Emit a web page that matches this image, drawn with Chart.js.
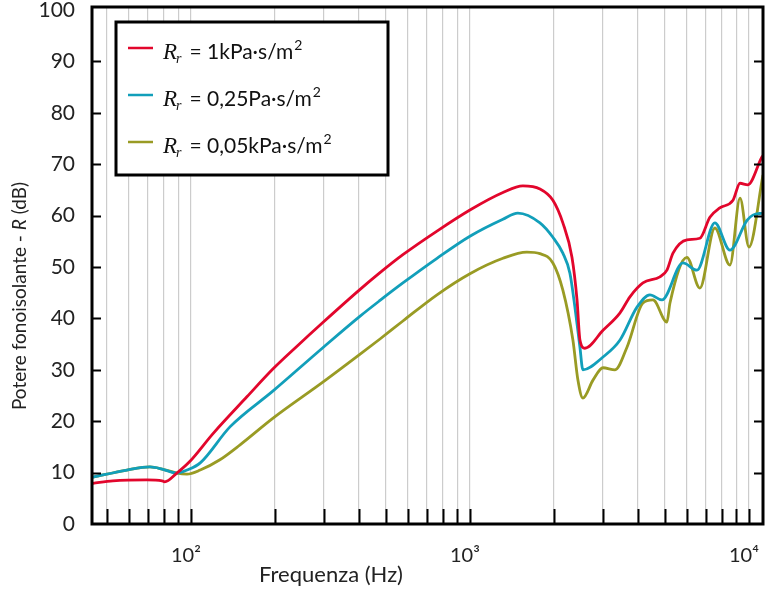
<!DOCTYPE html>
<html>
<head>
<meta charset="utf-8">
<script src="https://cdn.jsdelivr.net/npm/chart.js@4.4.1/dist/chart.umd.min.js"></script>
<style>
  html, body { margin: 0; padding: 0; background: #fff; }
  canvas { display: block; }
</style>
</head>
<body>
<canvas id="chart" width="765" height="589"></canvas>
<script>
// --- data (frequency in Hz, R in dB) ---
const FREQ_1K = [44.5, 52.5, 69.5, 78.8, 80.5, 89, 99.2, 120, 159, 197, 240, 297, 403, 476, 575, 762, 1000, 1313, 1548, 1782, 1983, 2153, 2321, 2420, 2479, 2582, 2999, 3451, 3745, 4169, 4797, 5082, 5343, 5992, 6668, 7244, 7863, 8767, 9290, 9910, 11130, 11230];
const DB_1K   = [7.9, 8.4, 8.6, 8.4, 8.2, 9.9, 12.2, 17.6, 24.8, 30.2, 34.6, 39.2, 45.6, 48.9, 52.4, 57.0, 61.1, 64.5, 65.8, 65.2, 63.0, 58.6, 51.9, 43.6, 35.8, 34.2, 37.7, 41.1, 44.2, 46.9, 48.1, 49.4, 52.7, 55.3, 55.6, 59.7, 61.5, 63.0, 66.3, 66.0, 71.4, 71.7];

const FREQ_025 = [44.5, 59, 71.3, 78.8, 89, 96.8, 108, 138, 197, 297, 403, 476, 575, 762, 1000, 1313, 1485, 1782, 1983, 2153, 2282, 2378, 2479, 2540, 2999, 3451, 3970, 4417, 4876, 5799, 6510, 7548, 8547, 9840, 10330, 11230];
const DB_025   = [9.1, 10.5, 11.1, 10.7, 9.9, 10.5, 11.9, 18.9, 25.9, 34.3, 40.4, 43.5, 46.9, 51.7, 56.0, 59.3, 60.5, 58.6, 55.8, 52.7, 48.8, 42.2, 34.4, 30.0, 32.5, 35.8, 42.2, 44.6, 43.6, 50.8, 49.4, 58.6, 53.3, 59.1, 60.1, 60.5];

const FREQ_005 = [44.5, 59, 71.3, 78.8, 89, 96.8, 108, 127, 150, 197, 297, 403, 476, 575, 762, 1000, 1313, 1600, 1782, 1983, 2153, 2339, 2438, 2540, 2761, 2999, 3311, 3655, 4169, 4529, 5082, 5211, 5992, 6668, 7548, 8547, 9290, 10000, 11230];
const DB_005   = [9.1, 10.5, 11.1, 10.7, 9.9, 9.7, 10.5, 12.5, 15.4, 20.6, 27.6, 33.0, 36.0, 39.5, 44.6, 48.7, 51.7, 52.9, 52.6, 50.8, 45.5, 35.8, 28.0, 24.5, 28.0, 30.4, 30.0, 34.4, 43.0, 43.6, 39.3, 43.0, 51.9, 45.9, 57.6, 50.4, 63.4, 53.9, 67.9];

const SERIES_LABELS = ['= 1kPa·s/m', '= 0,25Pa·s/m', '= 0,05kPa·s/m'];
const UNIT_EXP = '2';
const SERIES_COLORS = ['#e2062c', '#129fba', '#999b24'];

const X_TICKS = [50, 60, 70, 80, 90, 100, 200, 300, 400, 500, 600, 700, 800, 900, 1000, 2000, 3000, 4000, 5000, 6000, 7000, 8000, 9000, 10000];
const X_TICK_LABELS = { 100: '10²', 1000: '10³', 10000: '10⁴' };
const Y_TICKS = [0, 10, 20, 30, 40, 50, 60, 70, 80, 90, 100];

const X_TITLE = 'Frequenza (Hz)';
const Y_TITLE = ['Potere fonoisolante - ', 'R', ' (dB)'];

const toPoints = (xs, ys) => xs.map((x, i) => ({ x: x, y: ys[i] }));

// frame, inward ticks, legend and axis titles
const decorPlugin = {
  id: 'decor',
  afterDraw(chart) {
    const ctx = chart.ctx;
    const a = chart.chartArea;
    const xs = chart.scales.x, ys = chart.scales.y;
    ctx.save();

    // inward ticks
    ctx.strokeStyle = '#000';
    ctx.lineWidth = 2;
    ctx.beginPath();
    X_TICKS.forEach(v => {
      const px = Math.round(xs.getPixelForValue(v)) + 0.5;
      ctx.moveTo(px, a.bottom);
      ctx.lineTo(px, a.bottom - 15);
    });
    Y_TICKS.forEach(v => {
      if (v === 0 || v === 100) return;
      const py = Math.round(ys.getPixelForValue(v)) + 0.5;
      ctx.moveTo(a.left, py); ctx.lineTo(a.left + 9, py);
      ctx.moveTo(a.right, py); ctx.lineTo(a.right - 9, py);
    });
    ctx.stroke();

    // frame
    ctx.lineWidth = 3;
    ctx.strokeRect(a.left, a.top, a.right - a.left, a.bottom - a.top);

    // legend box
    ctx.fillStyle = '#fff';
    ctx.fillRect(116, 22, 272, 153);
    ctx.strokeRect(116, 22, 272, 153);
    const rows = [48, 95, 142];
    rows.forEach((y, i) => {
      ctx.strokeStyle = SERIES_COLORS[i];
      ctx.lineWidth = 2.5;
      ctx.beginPath();
      ctx.moveTo(128, y); ctx.lineTo(153, y);
      ctx.stroke();

      const base = y + 11;
      ctx.fillStyle = '#111';
      ctx.textBaseline = 'alphabetic';
      ctx.textAlign = 'left';
      ctx.font = 'italic 23px "Liberation Serif"';
      ctx.fillText('R', 163, base);
      let x = 163 + ctx.measureText('R').width;
      ctx.font = 'italic 14px "Liberation Serif"';
      ctx.fillText('r', x - 1, base + 4);
      x += ctx.measureText('r').width + 7;
      ctx.font = '21px Lato';
      ctx.fillText(SERIES_LABELS[i], x, base);
      x += ctx.measureText(SERIES_LABELS[i]).width + 1;
      ctx.font = '14px Lato';
      ctx.fillText(UNIT_EXP, x, base - 9);
    });

    // axis titles
    ctx.fillStyle = '#222';
    ctx.font = '22px Lato';
    ctx.textAlign = 'center';
    ctx.textBaseline = 'alphabetic';
    ctx.fillText(X_TITLE, 331, 582);

    ctx.translate(20, 296);
    ctx.rotate(-Math.PI / 2);
    ctx.textBaseline = 'middle';
    ctx.textAlign = 'left';
    const fonts = ['19px Lato', 'italic 19px Lato', '19px Lato'];
    let total = 0;
    Y_TITLE.forEach((t, i) => { ctx.font = fonts[i]; total += ctx.measureText(t).width; });
    let tx = -total / 2;
    Y_TITLE.forEach((t, i) => {
      ctx.font = fonts[i];
      ctx.fillText(t, tx, 0);
      tx += ctx.measureText(t).width;
    });
    ctx.restore();
  }
};

new Chart(document.getElementById('chart'), {
  type: 'line',
  data: {
    datasets: [
      { data: toPoints(FREQ_1K, DB_1K), borderColor: SERIES_COLORS[0] },
      { data: toPoints(FREQ_025, DB_025), borderColor: SERIES_COLORS[1] },
      { data: toPoints(FREQ_005, DB_005), borderColor: SERIES_COLORS[2] }
    ]
  },
  options: {
    responsive: false,
    animation: false,
    devicePixelRatio: 1,
    layout: { padding: { top: 7, right: 2, left: 0, bottom: 0 } },
    elements: {
      line: { borderWidth: 2.8, cubicInterpolationMode: 'monotone', fill: false },
      point: { radius: 0 }
    },
    plugins: { legend: { display: false }, tooltip: { enabled: false } },
    scales: {
      x: {
        type: 'logarithmic',
        min: 44.2,
        max: 11230,
        afterBuildTicks: s => { s.ticks = X_TICKS.map(v => ({ value: v })); },
        afterFit: s => { s.height = 65; s.paddingLeft = 0; s.paddingRight = 0; },
        border: { display: false },
        grid: { color: '#cccccc', lineWidth: 1.2, drawTicks: false },
        ticks: {
          autoSkip: false,
          maxRotation: 0,
          padding: 20,
          labelOffset: -5,
          color: '#222',
          font: { family: 'Lato', size: 20 },
          callback: v => X_TICK_LABELS[v] || ''
        }
      },
      y: {
        min: 0,
        max: 100.6,
        afterBuildTicks: s => { s.ticks = Y_TICKS.map(v => ({ value: v })); },
        afterFit: s => { s.width = 92; s.paddingTop = 0; s.paddingBottom = 0; },
        border: { display: false },
        grid: { display: false, drawTicks: false },
        ticks: {
          padding: 17,
          color: '#222',
          font: { family: 'Lato', size: 21 }
        }
      }
    }
  },
  plugins: [decorPlugin]
});
</script>
</body>
</html>
